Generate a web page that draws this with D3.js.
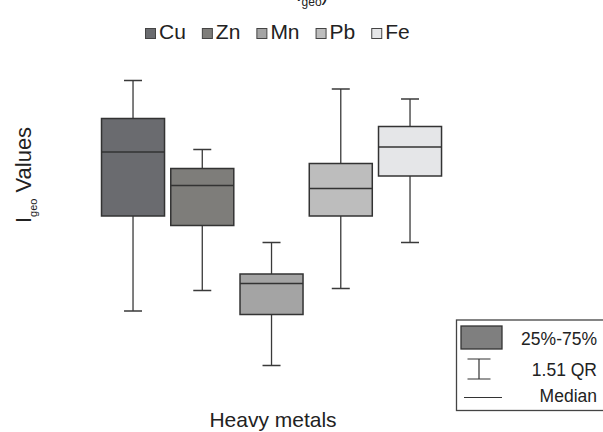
<!DOCTYPE html>
<html>
<head>
<meta charset="utf-8">
<script src="https://d3js.org/d3.v7.min.js"></script>
<style>
  body { margin: 0; background: #fff; }
  svg text { font-family: 'Liberation Sans', Arial, sans-serif; fill: #222; }
</style>
</head>
<body>
<svg width="603" height="432"></svg>
<script>
// heavy metals and their Igeo box statistics
var metals  = ["Cu", "Zn", "Mn", "Pb", "Fe"];
var whiskLo = [-3.62, -3.21, -4.71, -3.17, -2.25];
var q1      = [-1.72, -1.91, -3.69, -1.72, -0.92];
var median  = [-0.44, -1.11, -3.07, -1.17, -0.34];
var q3      = [ 0.23, -0.77, -2.88, -0.67,  0.07];
var whiskHi = [ 0.99, -0.39, -2.25,  0.82,  0.62];
var fills   = ["#6a6b6f", "#7e7d7a", "#a4a4a4", "#bdbdbd", "#e5e6e8"];

var svg = d3.select("svg");

var data = metals.map(function (m, i) {
  return { name: m, lo: whiskLo[i], q1: q1[i], med: median[i], q3: q3[i], hi: whiskHi[i], fill: fills[i] };
});

var x = d3.scaleBand()
  .domain(metals)
  .range([98.4, 444.65])
  .paddingInner(0.09)
  .paddingOuter(0.045);

var y = d3.scaleLinear()
  .domain([-5, 1])
  .range([380, 80]);

var capW = 9;
var mid = function (d) { return x(d.name) + x.bandwidth() / 2; };

var g = svg.append("g");

// whiskers
g.selectAll(".whisk")
  .data(data)
  .enter().append("path")
  .attr("class", "whisk")
  .attr("fill", "none")
  .attr("stroke", "#3a3a3a")
  .attr("stroke-width", 1.3)
  .attr("d", function (d) {
    var c = mid(d);
    return "M" + c + "," + y(d.hi) + "V" + y(d.q3) +
           "M" + c + "," + y(d.q1) + "V" + y(d.lo) +
           "M" + (c - capW) + "," + y(d.hi) + "H" + (c + capW) +
           "M" + (c - capW) + "," + y(d.lo) + "H" + (c + capW);
  });

// boxes 25%-75%
g.selectAll(".box")
  .data(data)
  .enter().append("rect")
  .attr("class", "box")
  .attr("x", function (d) { return x(d.name); })
  .attr("y", function (d) { return y(d.q3); })
  .attr("width", x.bandwidth())
  .attr("height", function (d) { return y(d.q1) - y(d.q3); })
  .attr("fill", function (d) { return d.fill; })
  .attr("stroke", "#333")
  .attr("stroke-width", 1.5);

// medians
g.selectAll(".med")
  .data(data)
  .enter().append("line")
  .attr("class", "med")
  .attr("x1", function (d) { return x(d.name); })
  .attr("x2", function (d) { return x(d.name) + x.bandwidth(); })
  .attr("y1", function (d) { return y(d.med); })
  .attr("y2", function (d) { return y(d.med); })
  .attr("stroke", "#333")
  .attr("stroke-width", 1.5);

// title, mostly cut off at the top edge (as in the original)
var title = svg.append("text")
  .attr("x", 296)
  .attr("y", 1)
  .style("font-size", "20px");
title.append("tspan").text("I");
title.append("tspan").attr("dy", 5).style("font-size", "12px").text("geo");
title.append("tspan").attr("dy", -5).text(")");

// top legend
var lg = svg.append("g").attr("transform", "translate(145,28)");
var lx = 0;
metals.forEach(function (m, i) {
  lg.append("rect")
    .attr("x", lx + 0.5).attr("y", 0.5)
    .attr("width", 10).attr("height", 10)
    .attr("fill", fills[i])
    .attr("stroke", "#444")
    .attr("stroke-width", 1);
  var t = lg.append("text")
    .attr("x", lx + 14)
    .attr("y", 11)
    .style("font-size", "21px")
    .text(m);
  lx += 14 + t.node().getComputedTextLength() + 16;
});

// axis titles
var yl = svg.append("text")
  .attr("transform", "translate(31,175) rotate(-90)")
  .attr("text-anchor", "middle")
  .style("font-size", "22px");
yl.append("tspan").text("I");
yl.append("tspan").attr("dy", 6).style("font-size", "11px").text("geo");
yl.append("tspan").attr("dy", -6).text(" Values");

svg.append("text")
  .attr("x", 273)
  .attr("y", 427)
  .attr("text-anchor", "middle")
  .style("font-size", "21px")
  .text("Heavy metals");

// key in the lower right corner
var key = svg.append("g");
key.append("rect")
  .attr("x", 456.5).attr("y", 320)
  .attr("width", 160).attr("height", 90.5)
  .attr("fill", "#fff")
  .attr("stroke", "#444")
  .attr("stroke-width", 1.3);
key.append("rect")
  .attr("x", 461).attr("y", 326)
  .attr("width", 41).attr("height", 23)
  .attr("fill", "#7f7f7f")
  .attr("stroke", "#333")
  .attr("stroke-width", 1.3);
key.append("path")
  .attr("d", "M479,359V379M467.5,359H490.5M467.5,379H490.5")
  .attr("fill", "none")
  .attr("stroke", "#333")
  .attr("stroke-width", 1.2);
key.append("line")
  .attr("x1", 464).attr("x2", 502)
  .attr("y1", 397.5).attr("y2", 397.5)
  .attr("stroke", "#333")
  .attr("stroke-width", 1.2);
var keyText = ["25%-75%", "1.51 QR", "Median"];
var keyY = [345, 375.5, 401.5];
keyText.forEach(function (s, i) {
  key.append("text")
    .attr("x", 597)
    .attr("y", keyY[i])
    .attr("text-anchor", "end")
    .style("font-size", "17.5px")
    .text(s);
});
</script>
</body>
</html>
